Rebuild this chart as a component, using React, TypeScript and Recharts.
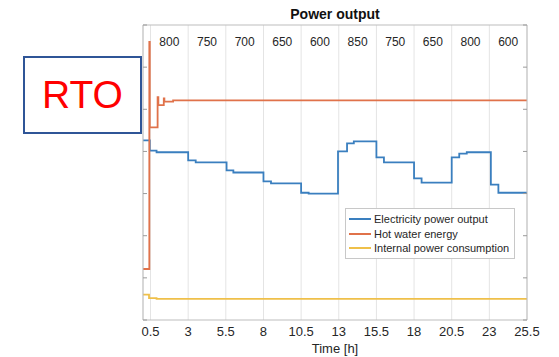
import React from 'react';
import { LineChart, Line, XAxis, YAxis, CartesianGrid, Legend } from 'recharts';

const xTicks = [0.5, 3, 5.5, 8, 10.5, 13, 15.5, 18, 20.5, 23, 25.5];
const yTicks = [0, 1, 2, 3, 4, 5, 6, 7];
const topLabels = ['800', '750', '700', '650', '600', '850', '750', '650', '800', '600'];
const topTicks = xTicks.slice(0, -1).map((t, i) => (t + xTicks[i + 1]) / 2);

const elecTime = [0, 0.45, 0.9, 3.0, 3.5, 5.55, 6.0, 8.0, 8.5, 10.5, 11.0, 12.95, 13.55, 14.0, 15.5, 16.0, 18.0, 18.5, 20.5, 21.0, 21.5, 23.1, 23.6, 25.5];
const elecValue = [4.26, 4.02, 3.98, 3.79, 3.74, 3.55, 3.5, 3.29, 3.24, 3.02, 3.0, 4.0, 4.19, 4.24, 3.86, 3.74, 3.36, 3.26, 3.86, 3.95, 3.98, 3.21, 3.02, 3.0];

const hotTime = [0, 0.42, 0.45, 0.97, 1.02, 1.38, 1.42, 2.0, 25.5];
const hotValue = [1.21, 6.6, 4.57, 5.29, 5.1, 5.26, 5.18, 5.21, 5.21];

const internalTime = [0, 0.4, 0.9, 25.5];
const internalValue = [0.6, 0.52, 0.5, 0.5];

const toRows = (t: number[], v: number[]) => t.map((x, i) => ({ t: x, v: v[i] }));
const elecData = toRows(elecTime, elecValue);
const hotData = toRows(hotTime, hotValue);
const internalData = toRows(internalTime, internalValue);

const BLUE = '#3a7fbf';
const ORANGE = '#e0724a';
const YELLOW = '#efc04a';
const FONT = '"Liberation Sans", Arial, Helvetica, sans-serif';

const legendItems = [
  { name: 'Electricity power output', color: BLUE },
  { name: 'Hot water energy', color: ORANGE },
  { name: 'Internal power consumption', color: YELLOW },
];

const LegendBox = () => (
  <div
    style={{
      border: '1px solid #c8c8c8',
      background: '#fff',
      padding: '3px 5px 2px 3px',
      fontFamily: FONT,
      fontSize: 11,
      color: '#262626',
      lineHeight: '14.5px',
      whiteSpace: 'nowrap',
      textAlign: 'left',
    }}
  >
    {legendItems.map((it) => (
      <div key={it.name} style={{ display: 'flex', alignItems: 'center' }}>
        <span style={{ display: 'inline-block', width: 22, height: 2, background: it.color, marginRight: 3 }} />
        <span>{it.name}</span>
      </div>
    ))}
  </div>
);

const TopTick = (props: any) => {
  const { x, y, index } = props;
  return (
    <text x={x} y={y + 21} textAnchor="middle" fontFamily={FONT} fontSize={12} fill="#262626">
      {topLabels[index]}
    </text>
  );
};

export default function App() {
  return (
    <div style={{ position: 'absolute', left: 0, top: 0, width: 559, height: 357, background: '#fff' }}>
      <LineChart
        width={559}
        height={357}
        margin={{ top: 24, right: 31, bottom: 0, left: 142 }}
      >
        <CartesianGrid vertical horizontal={false} stroke="#e4e4e4" xAxisId="bottom" yAxisId="left" />
        <XAxis
          dataKey="t"
          type="number"
          xAxisId="bottom"
          domain={[0, 25.5]}
          ticks={xTicks}
          interval={0}
          allowDataOverflow
          height={37}
          tickLine={false}
          tickSize={0}
          tickMargin={7}
          axisLine={{ stroke: '#bdbdbd' }}
          tick={{ fontFamily: FONT, fontSize: 13, fill: '#262626' }}
          label={{ value: 'Time [h]', position: 'insideBottom', offset: 4, style: { fontFamily: FONT, fontSize: 13, fill: '#262626' } }}
        />
        <XAxis
          dataKey="t"
          type="number"
          xAxisId="top"
          orientation="top"
          domain={[0, 25.5]}
          ticks={topTicks}
          interval={0}
          allowDataOverflow
          height={1}
          tickLine={false}
          tickSize={0}
          tickMargin={0}
          axisLine={{ stroke: '#bdbdbd' }}
          tick={<TopTick />}
          label={{ value: 'Power output', position: 'top', offset: 5, style: { fontFamily: FONT, fontSize: 14, fontWeight: 'bold', fill: '#111' } }}
        />
        <YAxis
          yAxisId="left"
          type="number"
          domain={[0, 7]}
          ticks={yTicks}
          interval={0}
          width={1}
          tickSize={-4}
          tickFormatter={() => ''}
          axisLine={{ stroke: '#bdbdbd' }}
          tickLine={{ stroke: '#9a9a9a' }}
        />
        <YAxis
          yAxisId="right"
          orientation="right"
          type="number"
          domain={[0, 7]}
          ticks={yTicks}
          interval={0}
          width={1}
          tickSize={-4}
          tickFormatter={() => ''}
          axisLine={{ stroke: '#bdbdbd' }}
          tickLine={{ stroke: '#9a9a9a' }}
        />
        <Line data={internalData} dataKey="v" xAxisId="top" yAxisId="right" type="stepAfter" stroke={YELLOW} strokeWidth={1.8} dot={false} isAnimationActive={false} name="Internal power consumption" />
        <Line data={elecData} dataKey="v" xAxisId="bottom" yAxisId="left" type="stepAfter" stroke={BLUE} strokeWidth={1.8} dot={false} isAnimationActive={false} name="Electricity power output" />
        <Line data={hotData} dataKey="v" xAxisId="bottom" yAxisId="left" type="stepAfter" stroke={ORANGE} strokeWidth={1.8} dot={false} isAnimationActive={false} name="Hot water energy" />
        <Legend
          content={<LegendBox />}
          layout="horizontal"
          verticalAlign="middle"
          align="center"
          wrapperStyle={{ position: 'absolute', left: 345, top: 208, width: 'auto', height: 'auto' }}
        />
      </LineChart>
      <div
        style={{
          position: 'absolute',
          left: 23,
          top: 56,
          width: 115,
          height: 74,
          border: '2px solid #2f5597',
          background: '#fff',
          display: 'flex',
          alignItems: 'center',
          justifyContent: 'center',
          fontFamily: FONT,
          fontSize: 39,
          color: '#ff0000',
        }}
      >
        RTO
      </div>
    </div>
  );
}
